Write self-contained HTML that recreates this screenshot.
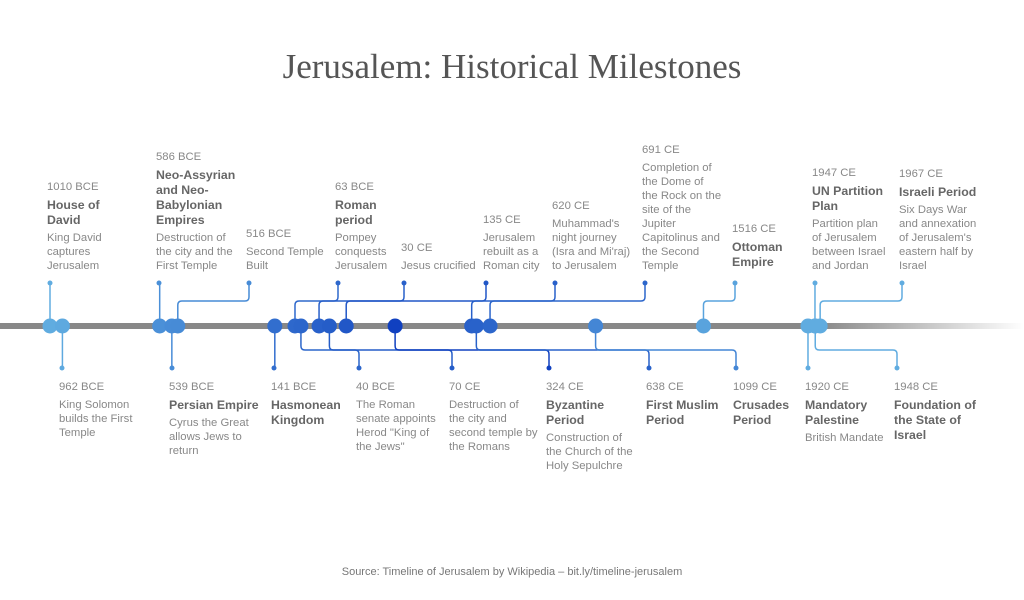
<!DOCTYPE html>
<html><head><meta charset="utf-8">
<style>
body{margin:0;width:1024px;height:600px;background:#fff;overflow:hidden;font-family:"Liberation Sans",sans-serif;}
#title{position:absolute;left:0;width:1024px;top:47px;text-align:center;font-family:"Liberation Serif",serif;font-size:35px;color:#555;}
#source{position:absolute;left:0;width:1024px;top:566px;text-align:center;font-size:11px;color:#777;}
.lbl{position:absolute;width:100px;color:#888;font-size:11.3px;line-height:14px;}
.lbl .d{margin-bottom:4px;}
.lbl .t{font-weight:bold;font-size:12.3px;line-height:15px;color:#666;margin-bottom:3px;}
.top{bottom:327px;}
.bot{top:380px;}
</style></head><body>
<div id="title">Jerusalem: Historical Milestones</div>
<svg id="chart" width="1024" height="600" style="position:absolute;left:0;top:0">
<defs><linearGradient id="fade" x1="0" x2="1024" gradientUnits="userSpaceOnUse">
<stop offset="0.8" stop-color="#888"/><stop offset="1" stop-color="#888" stop-opacity="0"/></linearGradient></defs>
<rect x="0" y="323" width="1024" height="6" fill="url(#fade)"/>
<g id="links"></g><g id="dots"></g>
</svg>
<div id="labels"></div>
<div id="source">Source: Timeline of Jerusalem by Wikipedia – bit.ly/timeline-jerusalem</div>
<script>
const years=[-1010,-962,-586,-539,-516,-141,-63,-40,30,70,135,324,620,638,691,1099,1516,1920,1947,1948,1967];
const dates=["1010 BCE","962 BCE","586 BCE","539 BCE","516 BCE","141 BCE","63 BCE","40 BCE","30 CE","70 CE","135 CE","324 CE","620 CE","638 CE","691 CE","1099 CE","1516 CE","1920 CE","1947 CE","1948 CE","1967 CE"];
const titles=["House of<br>David","","Neo-Assyrian<br>and Neo-<br>Babylonian<br>Empires","Persian Empire","","Hasmonean<br>Kingdom","Roman<br>period","","","","","Byzantine<br>Period","","First Muslim<br>Period","","Crusades<br>Period","Ottoman<br>Empire","Mandatory<br>Palestine","UN Partition<br>Plan","Foundation of<br>the State of<br>Israel","Israeli Period"];
const descs=["King David<br>captures<br>Jerusalem","King Solomon<br>builds the First<br>Temple","Destruction of<br>the city and the<br>First Temple","Cyrus the Great<br>allows Jews to<br>return","Second Temple<br>Built","","Pompey<br>conquests<br>Jerusalem","The Roman<br>senate appoints<br>Herod \"King of<br>the Jews\"","Jesus crucified","Destruction of<br>the city and<br>second temple by<br>the Romans","Jerusalem<br>rebuilt as a<br>Roman city","Construction of<br>the Church of the<br>Holy Sepulchre","Muhammad's<br>night journey<br>(Isra and Mi'raj)<br>to Jerusalem","","Completion of<br>the Dome of<br>the Rock on the<br>site of the<br>Jupiter<br>Capitolinus and<br>the Second<br>Temple","","","British Mandate","Partition plan<br>of Jerusalem<br>between Israel<br>and Jordan","","Six Days War<br>and annexation<br>of Jerusalem's<br>eastern half by<br>Israel"];
const sides=["top","bot","top","bot","top","bot","top","bot","top","bot","top","bot","top","bot","top","bot","top","bot","top","bot","top"];
// label column layout (not data)
const labelX=[50,62,159,172,249,274,338,359,404,452,486,549,555,649,645,736,735,808,815,897,902];
const xScale=y=>50+(y+1010)*0.2587;
const AX=326;
function col(y){const t=Math.min(1,Math.abs(y-324)/1334);const a=[16,64,192],b=[96,172,224];
return `rgb(${a.map((v,i)=>Math.round(v+(b[i]-v)*Math.pow(t,0.8))).join(',')})`;}
const NS="http://www.w3.org/2000/svg";
const links=document.getElementById('links'),dots=document.getElementById('dots'),labels=document.getElementById('labels');
years.forEach((yr,i)=>{
  const dx=xScale(yr),lx=labelX[i],top=sides[i]==="top",c=col(yr);
  const hy=top?301:350,ey=top?283:368,s=top?-1:1;
  let d;
  if(Math.abs(dx-lx)<2){d=`M${dx},${AX} L${dx},${ey}`;}
  else{const dir=lx>dx?1:-1,r=4;
    d=`M${dx},${AX} L${dx},${hy-s*r} Q${dx},${hy} ${dx+dir*r},${hy} L${lx-dir*r},${hy} Q${lx},${hy} ${lx},${hy+s*r} L${lx},${ey}`;}
  const p=document.createElementNS(NS,'path');
  p.setAttribute('d',d);p.setAttribute('fill','none');p.setAttribute('stroke',c);p.setAttribute('stroke-width','1.5');
  
  
  links.appendChild(p);
  const m=document.createElementNS(NS,'circle');
  m.setAttribute('cx',lx);m.setAttribute('cy',ey);m.setAttribute('r','2.5');m.setAttribute('fill',c);
  
  
  links.appendChild(m);
  const ci=document.createElementNS(NS,'circle');
  ci.setAttribute('cx',dx);ci.setAttribute('cy',AX);ci.setAttribute('r','7.5');ci.setAttribute('fill',c);
  
  
  dots.appendChild(ci);
  const L=document.createElement('div');
  L.className='lbl '+sides[i];L.style.left=(lx-3)+'px';
  
  
  L.innerHTML=`<div class="d">${dates[i]}</div>`+(titles[i]?`<div class="t">${titles[i]}</div>`:'')+(descs[i]?`<div>${descs[i]}</div>`:'');
  labels.appendChild(L);
});
</script>
</body></html>
